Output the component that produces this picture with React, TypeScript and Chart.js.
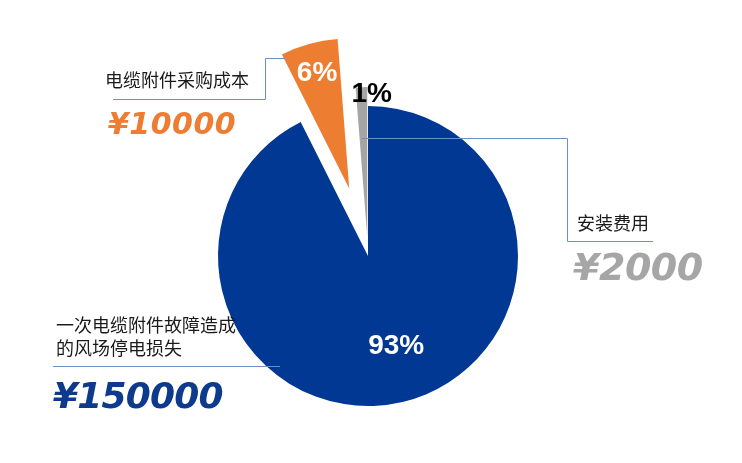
import React, { useEffect, useRef } from 'react';
import { Chart, registerables } from 'chart.js';

Chart.register(...registerables);

// 成本构成
const categories = ['一次电缆附件故障造成的风场停电损失', '电缆附件采购成本', '安装费用'];
const costs = [150000, 10000, 2000];
const sliceColors = ['#003893', '#ed7d31', '#a5a5a5'];
// how far each slice is pulled out (px), and where its % label sits
const explodeDistances = [0, 70, 19];
const labelColors = ['#ffffff', '#ffffff', '#000000'];
const labelRadii = [0.63, 0.8, 0.95];
const labelTurns = [-4, 0, 4];

const total = costs.reduce((a, b) => a + b, 0);

const explodePlugin = {
    id: 'explode',
    afterDatasetsUpdate(chart: any) {
        const meta = chart.getDatasetMeta(0);
        meta.data.forEach((arc: any, i: number) => {
            const d = explodeDistances[i] || 0;
            const mid = (arc.startAngle + arc.endAngle) / 2;
            arc.x += Math.cos(mid) * d;
            arc.y += Math.sin(mid) * d;
        });
    }
};

const percentPlugin = {
    id: 'percentLabels',
    afterDatasetsDraw(chart: any) {
        const { ctx } = chart;
        const meta = chart.getDatasetMeta(0);
        ctx.save();
        ctx.font = 'bold 28px "Liberation Sans", Arial, sans-serif';
        ctx.textAlign = 'center';
        ctx.textBaseline = 'middle';
        meta.data.forEach((arc: any, i: number) => {
            const a = (arc.startAngle + arc.endAngle) / 2 + labelTurns[i] * Math.PI / 180;
            const r = arc.outerRadius * labelRadii[i];
            ctx.fillStyle = labelColors[i];
            ctx.fillText(Math.round(costs[i] / total * 100) + '%', arc.x + Math.cos(a) * r, arc.y + Math.sin(a) * r);
        });
        ctx.restore();
    }
};

const cjk = '"Noto Sans CJK SC", "Noto Sans", sans-serif';
const num = '"DejaVu Sans", "Liberation Sans", sans-serif';

const noteStyle: React.CSSProperties = {
    position: 'absolute', fontFamily: cjk, fontSize: 18, lineHeight: '23px', color: '#1a1a1a', whiteSpace: 'nowrap'
};
const valueStyle: React.CSSProperties = {
    position: 'absolute', fontFamily: num, fontWeight: 'bold', fontStyle: 'italic', lineHeight: 1, whiteSpace: 'nowrap'
};

export default function App() {
    const canvasRef = useRef<HTMLCanvasElement>(null);

    useEffect(() => {
        if (!canvasRef.current) return;
        const chart = new Chart(canvasRef.current, {
            type: 'pie',
            data: {
                labels: categories,
                datasets: [{
                    data: costs,
                    backgroundColor: sliceColors,
                    borderWidth: 0
                }]
            },
            options: {
                responsive: true,
                maintainAspectRatio: false,
                animation: false,
                radius: 150,
                layout: { padding: { left: 0, right: 6, top: 49, bottom: 0 } },
                plugins: {
                    legend: { display: false },
                    tooltip: { enabled: false }
                }
            } as any,
            plugins: [explodePlugin, percentPlugin]
        });
        return () => chart.destroy();
    }, []);

    return (
        <div style={{ position: 'fixed', left: 0, top: 0, width: 742, height: 463, background: '#fff' }}>
            <canvas ref={canvasRef} />
            <svg width={742} height={463} style={{ position: 'absolute', left: 0, top: 0, pointerEvents: 'none' }}>
                <polyline points="113,99.5 265.5,99.5 265.5,58.5 285,58.5" fill="none" stroke="#6d8fca" strokeWidth={1} />
                <polyline points="362,138.5 567.5,138.5 567.5,241.5 653,241.5" fill="none" stroke="#6d8fca" strokeWidth={1} />
                <polyline points="53,366.5 280,366.5" fill="none" stroke="#6d8fca" strokeWidth={1} />
            </svg>
            <div style={{ ...noteStyle, left: 105, top: 68 }}>{categories[1]}</div>
            <div style={{ ...valueStyle, left: 108, top: 109, fontSize: 30, color: '#ec7d32', letterSpacing: 0.5 }}>¥10000</div>
            <div style={{ ...noteStyle, left: 577, top: 211 }}>{categories[2]}</div>
            <div style={{ ...valueStyle, left: 573, top: 248, fontSize: 38, color: '#a6a6a6', letterSpacing: -0.5 }}>¥2000</div>
            <div style={{ ...noteStyle, left: 56, top: 313 }}>一次电缆附件故障造成<br />的风场停电损失</div>
            <div style={{ ...valueStyle, left: 53, top: 378, fontSize: 36, color: '#0d3a8c', letterSpacing: -0.8 }}>¥150000</div>
        </div>
    );
}
